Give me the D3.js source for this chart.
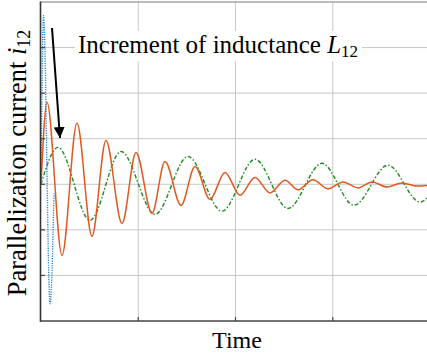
<!DOCTYPE html>
<html><head><meta charset="utf-8">
<script src="https://cdn.jsdelivr.net/npm/d3@7"></script>
<style>html,body{margin:0;padding:0;background:#fff;}svg{display:block;}</style>
</head><body>
<script>
// ---- data ----
const xTicks = [0, 1, 2, 3, 4];
const yTicks = [-3, -2, -1, 0, 1, 2, 3, 4];

const orangeT = [0, 0.062, 0.216, 0.370, 0.524, 0.668, 0.833, 0.977, 1.141, 1.275, 1.440, 1.584, 1.738, 1.892, 2.046, 2.200, 2.355, 2.509, 2.643, 2.797, 2.951, 3.105, 3.260, 3.404, 3.558, 3.712, 3.866, 4.0];
const orangeV = [0, 1.80, -1.56, 1.34, -1.14, 0.96, -0.86, 0.70, -0.64, 0.50, -0.46, 0.39, -0.33, 0.26, -0.24, 0.15, -0.19, 0.09, -0.12, 0.10, -0.10, 0.05, -0.08, 0.05, -0.06, 0.03, -0.04, -0.02];

const greenT = [0, 0.175, 0.504, 0.823, 1.172, 1.511, 1.861, 2.200, 2.540, 2.889, 3.218, 3.568, 3.897, 4.0];
const greenV = [0, 0.81, -0.79, 0.72, -0.66, 0.61, -0.59, 0.55, -0.53, 0.46, -0.46, 0.42, -0.39, -0.23];

const blueT = [0, 0.026, 0.093, 0.134];
const blueV = [0, 3.70, -2.62, -0.20];

const annotation = "Increment of inductance ";
const xLabel = "Time";
const yLabel = "Parallelization current ";

// ---- layout ----
const W = 427, H = 358;
const x = d3.scaleLinear().domain([0, 4]).range([41, 430]);
const y = d3.scaleLinear().domain([-3, 4]).range([321, 2]);
const FONT = "Liberation Serif";

const svg = d3.select("body").append("svg").attr("width", W).attr("height", H);

const defs = svg.append("defs");
defs.append("clipPath").attr("id", "clip").append("rect")
  .attr("x", 41).attr("y", 2).attr("width", W - 41).attr("height", 319);

// grid
const grid = svg.append("g");
grid.selectAll("line.h").data(yTicks.filter(d => d > -3 && d < 4)).join("line")
  .attr("x1", x(0)).attr("x2", W).attr("y1", d => y(d)).attr("y2", d => y(d))
  .attr("stroke", "#c8c8c8").attr("stroke-width", 1);
grid.selectAll("line.v").data(xTicks.filter(d => d > 0 && d < 4)).join("line")
  .attr("y1", y(4)).attr("y2", y(-3)).attr("x1", d => x(d)).attr("x2", d => x(d))
  .attr("stroke", "#c8c8c8").attr("stroke-width", 1);

// series
const lineGen = d3.line().x(d => x(d[0])).y(d => y(d[1])).curve(d3.curveMonotoneX);
const plot = svg.append("g").attr("clip-path", "url(#clip)");
plot.append("path").datum(d3.zip(greenT, greenV)).attr("d", lineGen)
  .attr("fill", "none").attr("stroke", "#1a8a1a").attr("stroke-width", 1.4)
  .attr("stroke-dasharray", "4,2,1.5,2");
plot.append("path").datum(d3.zip(orangeT, orangeV)).attr("d", lineGen)
  .attr("fill", "none").attr("stroke", "#e0581e").attr("stroke-width", 1.5);
plot.append("path").datum(d3.zip(blueT, blueV)).attr("d", lineGen)
  .attr("fill", "none").attr("stroke", "#2a86d0").attr("stroke-width", 1.4)
  .attr("stroke-dasharray", "1.2,1.2");

// axes
svg.append("line").attr("x1", 41).attr("x2", W).attr("y1", 2).attr("y2", 2)
  .attr("stroke", "#7a7a7a").attr("stroke-width", 1.2);
svg.append("line").attr("x1", 40.5).attr("x2", 40.5).attr("y1", 1.5).attr("y2", 322)
  .attr("stroke", "#333").attr("stroke-width", 1.6);
svg.append("line").attr("x1", 40).attr("x2", W).attr("y1", 321).attr("y2", 321)
  .attr("stroke", "#444").attr("stroke-width", 1.6);
// ticks
svg.append("g").selectAll("line").data(xTicks.filter(d => d > 0 && d < 4)).join("line")
  .attr("x1", d => x(d)).attr("x2", d => x(d)).attr("y1", 321).attr("y2", 317)
  .attr("stroke", "#444").attr("stroke-width", 1.2);
svg.append("g").selectAll("line").data(yTicks.filter(d => d > -3 && d < 4)).join("line")
  .attr("x1", 41).attr("x2", 45).attr("y1", d => y(d)).attr("y2", d => y(d))
  .attr("stroke", "#444").attr("stroke-width", 1.2);

// annotation
svg.append("rect").attr("x", 75).attr("y", 31).attr("width", 287).attr("height", 30).attr("fill", "#fff");
const at = svg.append("text").attr("x", 78).attr("y", 53).attr("font-size", 25)
  .attr("font-family", FONT).attr("fill", "#000");
at.append("tspan").text(annotation);
at.append("tspan").attr("font-style", "italic").text("L");
at.append("tspan").attr("font-size", 17).attr("dy", 4).text("12");

// arrow
defs.append("marker").attr("id", "ah").attr("viewBox", "0 0 10 10").attr("refX", 10).attr("refY", 5)
  .attr("markerWidth", 5.5).attr("markerHeight", 5.5).attr("markerUnits", "strokeWidth").attr("orient", "auto")
  .append("path").attr("d", "M0,0 L10,5 L0,10 Z").attr("fill", "#000");
svg.append("line").attr("x1", 52).attr("y1", 28).attr("x2", 60).attr("y2", 138)
  .attr("stroke", "#000").attr("stroke-width", 2).attr("marker-end", "url(#ah)");

// labels
svg.append("text").attr("x", 237).attr("y", 348).attr("text-anchor", "middle")
  .attr("font-family", FONT).attr("font-size", 24).attr("fill", "#000").text(xLabel);
const yl = svg.append("text").attr("transform", "translate(26,163) rotate(-90)")
  .attr("font-family", FONT).attr("text-anchor", "middle").attr("font-size", 26.5).attr("fill", "#000");
yl.append("tspan").text(yLabel);
yl.append("tspan").attr("font-style", "italic").text("i");
yl.append("tspan").attr("font-size", 18).attr("dy", 4).text("12");
</script>
</body></html>
